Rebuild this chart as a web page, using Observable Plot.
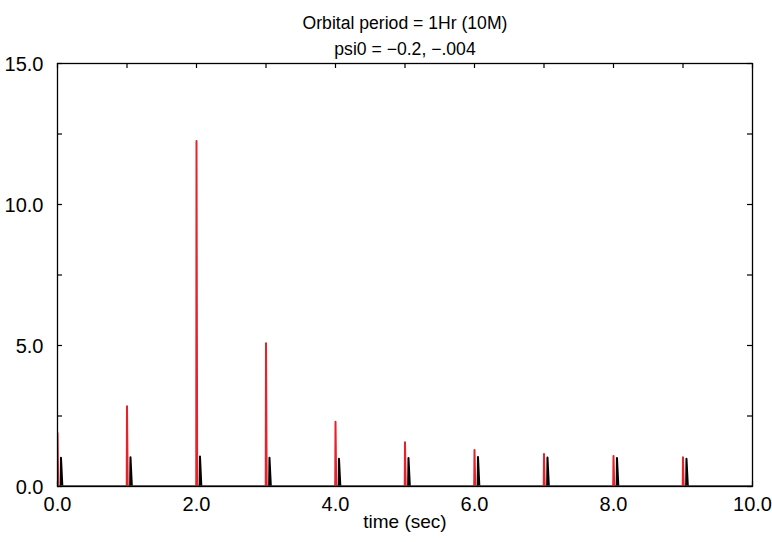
<!DOCTYPE html>
<html>
<head>
<meta charset="utf-8">
<script src="https://cdn.jsdelivr.net/npm/d3@7"></script>
<script src="https://cdn.jsdelivr.net/npm/@observablehq/plot@0.6"></script>
<style>
  html, body { margin: 0; padding: 0; background: #fff; }
  #chart svg { display: block; }
</style>
</head>
<body>
<div id="chart"></div>
<script>
// ---- data ----
const titleLine1 = "Orbital period = 1Hr (10M)";
const titleLine2 = "psi0 = \u22120.2, \u2212.004";
const xLabel = "time (sec)";
const pulseTimes = [0, 1, 2, 3, 4, 5, 6, 7, 8, 9];          // seconds
const redPeaks   = [1.9, 2.85, 12.25, 5.08, 2.3, 1.57, 1.29, 1.15, 1.08, 1.04];
const blackPeaks = [1.02, 1.04, 1.06, 1.02, 0.98, 1.01, 1.05, 1.03, 1.01, 0.98];
const blackLag = 0.05;      // black pulse arrives slightly after red (s)
const xDomain = [0, 10];
const yDomain = [0, 15];
const xTicks = [0, 1, 2, 3, 4, 5, 6, 7, 8, 9, 10];
const xTickLabels = [0, 2, 4, 6, 8, 10];
const yTicks = [0, 2.5, 5, 7.5, 10, 12.5, 15];
const yTickLabels = [0, 5, 10, 15];

// ---- build line series (baseline with narrow spikes) ----
function series(times, peaks, lag, rise, fall, name) {
  const pts = [{t: xDomain[0], v: 0, s: name}];
  times.forEach((t0, i) => {
    const c = t0 + lag;
    pts.push({t: Math.max(xDomain[0], c - rise), v: 0, s: name});
    pts.push({t: c, v: peaks[i], s: name});
    pts.push({t: c + fall, v: 0, s: name});
  });
  pts.push({t: xDomain[1], v: 0, s: name});
  return pts;
}
const redData = series(pulseTimes, redPeaks, 0, 0.004, 0.01, "red");
const blackData = series(pulseTimes, blackPeaks, blackLag, 0.005, 0.02, "black");

const W = 772, H = 542;
const mL = 57, mR = 20, mT = 63, mB = 56;
const plotH = H - mT - mB, plotW = W - mL - mR;
const tick = 5;
const font = "Liberation Sans, Arial, Helvetica, sans-serif";

const chart = Plot.plot({
  width: W,
  height: H,
  marginLeft: mL,
  marginRight: mR,
  marginTop: mT,
  marginBottom: mB,
  style: {fontFamily: font, fontSize: "20px", color: "#000", background: "#fff"},
  x: {domain: xDomain},
  y: {domain: yDomain},
  marks: [
    Plot.axisX(xTickLabels, {tickSize: 0, tickPadding: 10, tickFormat: d => d.toFixed(1), fontSize: 20, label: null}),
    Plot.axisY(yTickLabels, {tickSize: 0, tickPadding: 14, tickFormat: d => d.toFixed(1), fontSize: 20, label: null, dy: 1}),
    // inward ticks on all four sides
    Plot.tickX(xTicks, {x: d => d, insetTop: plotH - tick, stroke: "#000", strokeWidth: 1.2}),
    Plot.tickX(xTicks, {x: d => d, insetBottom: plotH - tick, stroke: "#000", strokeWidth: 1.2}),
    Plot.tickY(yTicks, {y: d => d, insetRight: plotW - tick, stroke: "#000", strokeWidth: 1.2}),
    Plot.tickY(yTicks, {y: d => d, insetLeft: plotW - tick, stroke: "#000", strokeWidth: 1.2}),
    Plot.lineY(blackData, {x: "t", y: "v", stroke: "#000", strokeWidth: 2, clip: true}),
    Plot.lineY(redData, {x: "t", y: "v", stroke: "#e8222a", strokeWidth: 2, clip: true}),
    Plot.frame({stroke: "#000", strokeWidth: 1.3}),
    Plot.text([titleLine1], {frameAnchor: "top", dy: -47, text: d => d, fontSize: 17.6, fill: "#000"}),
    Plot.text([titleLine2], {frameAnchor: "top", dy: -21, text: d => d, fontSize: 17.6, fill: "#000"}),
    Plot.text([xLabel], {frameAnchor: "bottom", dy: 41, text: d => d, fontSize: 19, fill: "#000"})
  ]
});
document.getElementById("chart").appendChild(chart);
</script>
</body>
</html>
